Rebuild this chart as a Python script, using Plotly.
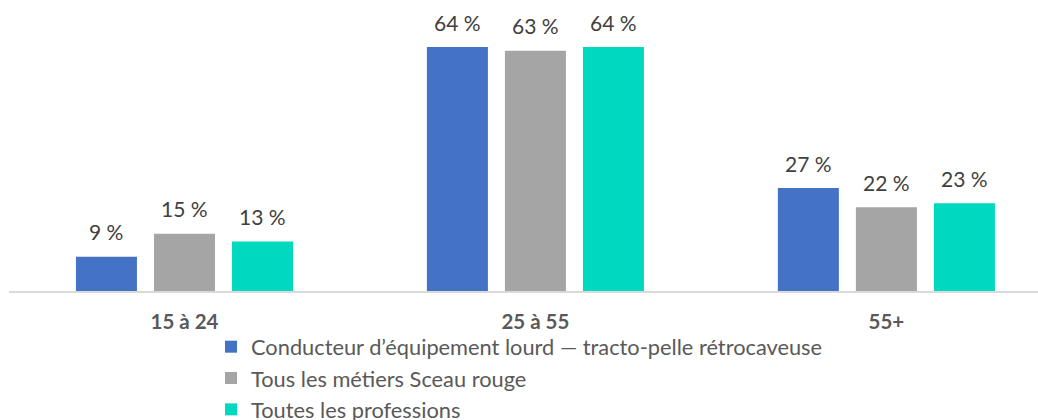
import plotly.graph_objects as go

categories = ["15 à 24", "25 à 55", "55+"]
series_names = [
    "Conducteur d’équipement lourd — tracto-pelle rétrocaveuse",
    "Tous les métiers Sceau rouge",
    "Toutes les professions",
]
values_conducteur = [9, 64, 27]
values_sceau = [15, 63, 22]
values_toutes = [13, 64, 23]
colors = ["#4472C4", "#A5A5A5", "#00D9C0"]

series_values = [values_conducteur, values_sceau, values_toutes]
offsets = [-78, 0, 78]

FONT = "Lato, 'Open Sans', sans-serif"

fig = go.Figure()
for name, vals, col in zip(series_names, series_values, colors):
    fig.add_trace(go.Bar(x=categories, y=vals, name=name, marker_color=col,
                         marker_line_width=0, hoverinfo="skip"))

annotations = []
for vals, off in zip(series_values, offsets):
    for c, v in zip(categories, vals):
        annotations.append(dict(x=c, y=v, xref="x", yref="y", text=f"{v} %",
                                showarrow=False, xshift=off, yshift=25,
                                yanchor="middle",
                                font=dict(family=FONT, size=21, color="#404040")))

fig.update_layout(
    width=1038, height=420,
    margin=dict(l=9, r=0, t=1, b=129, autoexpand=False),
    paper_bgcolor="white", plot_bgcolor="white",
    barmode="group", bargap=0.333, bargroupgap=0.218,
    annotations=annotations,
    showlegend=True,
    legend=dict(orientation="v", x=0.2033, xanchor="left", xref="container",
                y=0.2238, yanchor="top", yref="container",
                font=dict(family=FONT, size=21.8, color="#595959"),
                traceorder="normal", itemclick=False, bgcolor="rgba(0,0,0,0)"),
    xaxis=dict(range=[-0.5, 2.432], showgrid=False, showline=True,
               linecolor="#D9D9D9", linewidth=1.5, ticks="",
               ticklabelstandoff=12,
               tickfont=dict(family=FONT, size=20.5, color="#595959", weight="bold")),
    yaxis=dict(range=[0, 76.07], visible=False, showgrid=False, zeroline=False),
)

fig.write_html("out.html",
               config={"displayModeBar": False},
               post_script="document.body.style.margin='0';document.body.style.overflow='hidden';")
